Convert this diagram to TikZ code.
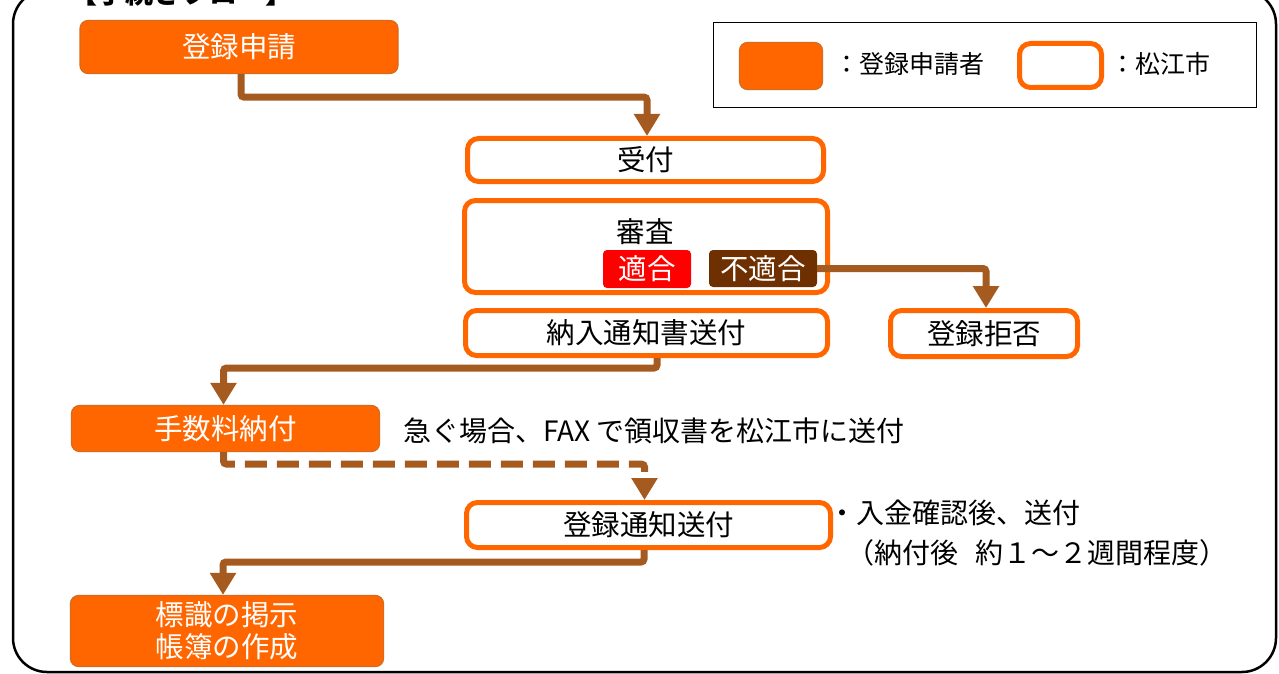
\documentclass[tikz,border=0pt]{standalone}
\usepackage{fontspec}
\setmainfont{Noto Sans CJK JP}
\usetikzlibrary{arrows.meta}
\definecolor{org}{HTML}{FF6600}
\definecolor{orgedge}{HTML}{D66A1E}
\definecolor{conncol}{HTML}{A55A1F}
\definecolor{ngbrown}{HTML}{6E3000}
\definecolor{okred}{HTML}{FF0000}
\begin{document}
\begin{tikzpicture}[x=1pt,y=-1pt,
  txt/.style={font=\fontsize{28.5}{32}\selectfont, inner sep=0pt},
  applicant/.style={txt, fill=org, draw=orgedge, line width=1.2pt, rounded corners=8pt, text=white},
  city/.style={txt, fill=white, draw=org, line width=5pt, rounded corners=11pt},
  tag/.style={txt, rounded corners=4pt, text=white},
  flow/.style={draw=conncol, line width=7pt, rounded corners=3pt, -{Triangle[length=22pt,width=25pt]}},
  note/.style={txt, anchor=west, font=\fontsize{28}{32}\selectfont}
]
\useasboundingbox (0,0) rectangle (1279,674);
% outer frame
\draw[line width=2.5pt, rounded corners=34pt] (13,-10) rectangle (1276,672);
\node[txt, font=\fontsize{28}{32}\selectfont\bfseries, fill=white, inner xsep=2pt] (title) at (181,-7) {【手続きフロー】};

% legend
\node[draw=black, line width=1.5pt, minimum width=543pt, minimum height=85pt, inner sep=0pt] (legend) at (985,65) {};
\node[applicant, minimum width=83pt, minimum height=47pt] (legA) at (781,66) {};
\node[note, font=\fontsize{25}{28}\selectfont] (legAt) at (834,64) {：登録申請者};
\node[city, minimum width=82pt, minimum height=44pt] (legB) at (1060.5,65.5) {};
\node[note, font=\fontsize{25}{28}\selectfont] (legBt) at (1110,64) {：松江市};

% nodes
\node[applicant, minimum width=318pt, minimum height=53pt] (shinsei) at (239,47) {登録申請};
\node[city, minimum width=356pt, minimum height=43pt] (uketsuke) at (645.5,160) {受付};
\node[city, minimum width=363pt, minimum height=92pt] (shinsa) at (646,246.5) {};
\node[txt] (shinsaT) at (645,232) {審査};
\node[tag, fill=okred, minimum width=88pt, minimum height=38pt] (tekigo) at (647,269) {適合};
\node[tag, fill=ngbrown, minimum width=108pt, minimum height=37pt] (futekigo) at (763,268.5) {不適合};
\node[city, minimum width=362pt, minimum height=45pt] (nounyu) at (646.5,333) {納入通知書送付};
\node[city, minimum width=187pt, minimum height=46pt] (kyohi) at (984,333.5) {登録拒否};
\node[applicant, minimum width=308pt, minimum height=46pt] (tesuryo) at (225.5,428.5) {手数料納付};
\node[note] (fax) at (403,431) {急ぐ場合、FAX で領収書を松江市に送付};
\node[city, minimum width=364pt, minimum height=45pt] (tsuchi) at (648.5,525) {登録通知送付};
\node[note] (note1) at (828,513) {・入金確認後、送付};
\node[note] (note2) at (846,553) {（納付後\hspace{0.6em}約１～２週間程度）};
\node[applicant, minimum width=313pt, minimum height=71pt, align=center] (hyoshiki) at (227,631) {標識の掲示\\帳簿の作成};

% connectors
\draw[flow] ([xshift=2pt]shinsei.south) -- ++(0,23) -| ([xshift=1.5pt]uketsuke.north);
\draw[flow] (futekigo.east) -| ([xshift=2pt]kyohi.north);
\draw[flow] ([xshift=10.5pt]nounyu.south) -- ++(0,10) -| ([xshift=-2pt]tesuryo.north);
\draw[flow, dash pattern=on 22pt off 10pt] ([xshift=-2pt]tesuryo.south) -- ++(0,12) -| ([xshift=-4pt]tsuchi.north);
\draw[flow] ([xshift=-4.5pt]tsuchi.south) -- ++(0,12) -| ([xshift=-4pt]hyoshiki.north);
\end{tikzpicture}
\end{document}
